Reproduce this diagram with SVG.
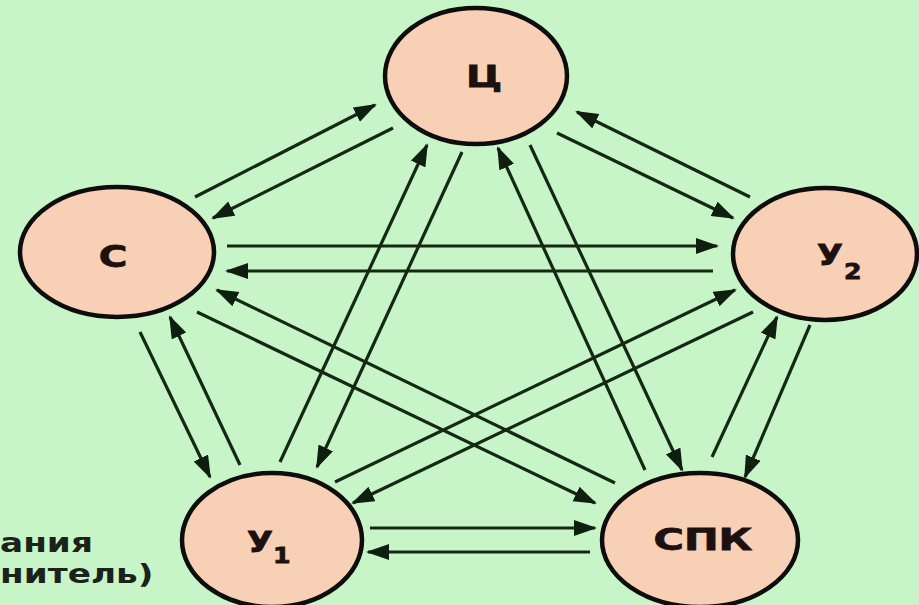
<svg xmlns="http://www.w3.org/2000/svg" width="919" height="605" viewBox="0 0 919 605">
<defs>
<style>
.bg{fill:#c8f5c8}
.node{fill:#f8d0b6;stroke:#0d0d0d;stroke-width:4.5}
.lbl{font-family:"DejaVu Sans","Liberation Sans",sans-serif;font-weight:bold;fill:#1c1010;stroke:#1c1010;stroke-width:0.8}
.edge{stroke:#142814;stroke-width:3.2;fill:none;marker-end:url(#ah)}
.note{font-family:"DejaVu Sans","Liberation Sans",sans-serif;font-weight:bold;fill:#1a221a;font-size:26px}
</style>
<marker id="ah" markerUnits="userSpaceOnUse" markerWidth="24" markerHeight="17" refX="21" refY="8" orient="auto">
<path d="M0,0 L23,8 L0,16 Z" fill="#0f1f0f"/>
</marker>
</defs>
<rect class="bg" x="0" y="0" width="919" height="605"/>
<g id="connectors">
<line class="edge" x1="195" y1="197" x2="375" y2="105"/>
<line class="edge" x1="393" y1="128" x2="213" y2="218"/>
<line class="edge" x1="750" y1="197" x2="577" y2="112"/>
<line class="edge" x1="557" y1="133" x2="733" y2="218"/>
<line class="edge" x1="227" y1="246" x2="717" y2="246"/>
<line class="edge" x1="713" y1="271" x2="227" y2="271"/>
<line class="edge" x1="140" y1="332" x2="210" y2="477"/>
<line class="edge" x1="240" y1="465" x2="170" y2="317"/>
<line class="edge" x1="615" y1="483" x2="217" y2="290"/>
<line class="edge" x1="197" y1="312" x2="595" y2="503"/>
<line class="edge" x1="280" y1="462" x2="427" y2="145"/>
<line class="edge" x1="462" y1="152" x2="317" y2="467"/>
<line class="edge" x1="645" y1="470" x2="498" y2="148"/>
<line class="edge" x1="530" y1="145" x2="682" y2="470"/>
<line class="edge" x1="712" y1="457" x2="777" y2="317"/>
<line class="edge" x1="810" y1="325" x2="745" y2="477"/>
<line class="edge" x1="335" y1="482" x2="735" y2="290"/>
<line class="edge" x1="753" y1="312" x2="353" y2="503"/>
<line class="edge" x1="370" y1="528" x2="595" y2="528"/>
<line class="edge" x1="590" y1="552" x2="368" y2="552"/>
</g>
<g id="node-c">
<ellipse class="node" cx="476" cy="76" rx="91" ry="68"/>
<text class="lbl" font-size="30" text-anchor="middle" transform="translate(484,87) scale(1.3,1)">Ц</text>
</g>
<g id="node-s">
<ellipse class="node" cx="117" cy="252" rx="97" ry="65"/>
<text class="lbl" font-size="30" text-anchor="middle" transform="translate(113,267) scale(1.3,1)">С</text>
</g>
<g id="node-u2">
<ellipse class="node" cx="825" cy="254" rx="92" ry="66"/>
<text class="lbl" font-size="28" transform="translate(817,265) scale(1.2,1)">У<tspan font-size="21" dx="1" dy="14">2</tspan></text>
</g>
<g id="node-u1">
<ellipse class="node" cx="272" cy="540" rx="90" ry="67"/>
<text class="lbl" font-size="28" transform="translate(247,552) scale(1.2,1)">У<tspan font-size="21" dy="11">1</tspan></text>
</g>
<g id="node-spk">
<ellipse class="node" cx="700" cy="540" rx="98" ry="67"/>
<text class="lbl" font-size="30" text-anchor="middle" transform="translate(703,550) scale(1.38,1)">СПК</text>
</g>
<g id="note">
<text class="note" transform="translate(0,552) scale(1.32,1)">ания</text>
<text class="note" transform="translate(0,583) scale(1.32,1)">нитель)</text>
</g>
</svg>
